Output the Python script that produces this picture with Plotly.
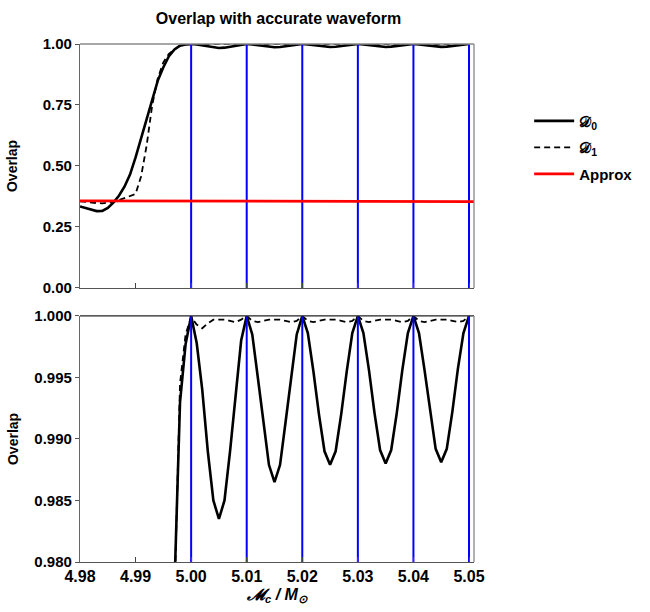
import plotly.graph_objects as go

# ---- data ----
chirp_mass = [
    4.980, 4.981, 4.982, 4.983, 4.984, 4.985, 4.986, 4.987, 4.988, 4.989,
    4.990, 4.991, 4.992, 4.993, 4.994, 4.995, 4.996, 4.997, 4.998, 4.999,
    5.000, 5.001, 5.002, 5.003, 5.004, 5.005, 5.006, 5.007, 5.008, 5.009,
    5.010, 5.011, 5.012, 5.013, 5.014, 5.015, 5.016, 5.017, 5.018, 5.019,
    5.020, 5.021, 5.022, 5.023, 5.024, 5.025, 5.026, 5.027, 5.028, 5.029,
    5.030, 5.031, 5.032, 5.033, 5.034, 5.035, 5.036, 5.037, 5.038, 5.039,
    5.040, 5.041, 5.042, 5.043, 5.044, 5.045, 5.046, 5.047, 5.048, 5.049,
    5.050,
]

overlap_D0 = [
    0.334, 0.327, 0.320, 0.315, 0.316, 0.328, 0.350, 0.378, 0.415, 0.465,
    0.535, 0.615, 0.695, 0.772, 0.850, 0.905, 0.950, 0.978, 0.993, 0.9977,
    1.0000, 0.9978, 0.9940, 0.9890, 0.9850, 0.9835, 0.9850, 0.9890, 0.9935, 0.9980,
    1.0000, 0.9985, 0.9950, 0.9914, 0.9879, 0.9865, 0.9879, 0.9914, 0.9950, 0.9985,
    1.0000, 0.9986, 0.9955, 0.9920, 0.9890, 0.9879, 0.9890, 0.9920, 0.9955, 0.9986,
    1.0000, 0.9986, 0.9956, 0.9921, 0.9891, 0.9880, 0.9891, 0.9921, 0.9956, 0.9986,
    1.0000, 0.9986, 0.9956, 0.9922, 0.9892, 0.9881, 0.9892, 0.9922, 0.9957, 0.9986,
    1.0000,
]

overlap_D1 = [
    0.355, 0.352, 0.350, 0.348, 0.347, 0.348, 0.352, 0.360, 0.368, 0.378,
    0.385, 0.458, 0.585, 0.750, 0.860, 0.925, 0.960, 0.977, 0.9945, 0.9985,
    0.9999, 0.9993, 0.9990, 0.9994, 0.9997, 0.9997, 0.9997, 0.9996, 0.9995, 0.9997,
    1.0000, 0.9996, 0.9995, 0.9996, 0.9997, 0.9997, 0.9997, 0.9996, 0.9995, 0.9996,
    1.0000, 0.9996, 0.9995, 0.9996, 0.9997, 0.9997, 0.9997, 0.9996, 0.9995, 0.9996,
    1.0000, 0.9996, 0.9995, 0.9996, 0.9997, 0.9997, 0.9997, 0.9996, 0.9995, 0.9996,
    1.0000, 0.9996, 0.9995, 0.9996, 0.9997, 0.9997, 0.9997, 0.9996, 0.9995, 0.9996,
    1.0000,
]

approx_x = [4.980, 5.0509]
approx_y = [0.357, 0.354]

template_masses = [5.00, 5.01, 5.02, 5.03, 5.04, 5.05]

x_ticks = [4.98, 4.99, 5.00, 5.01, 5.02, 5.03, 5.04, 5.05]
x_tick_labels = ["4.98", "4.99", "5.00", "5.01", "5.02", "5.03", "5.04", "5.05"]
top_y_ticks = [0.00, 0.25, 0.50, 0.75, 1.00]
top_y_labels = ["0.00", "0.25", "0.50", "0.75", "1.00"]
bot_y_ticks = [0.980, 0.985, 0.990, 0.995, 1.000]
bot_y_labels = ["0.980", "0.985", "0.990", "0.995", "1.000"]

FONT = "Liberation Sans, Arial, sans-serif"

fig = go.Figure()

# D0 / D1 in both panels
for ax, show in (("", True), ("2", False)):
    fig.add_trace(go.Scatter(
        x=chirp_mass, y=overlap_D0, mode="lines", name="𝒟<sub>0</sub>",
        line=dict(color="black", width=2.6), xaxis="x" + ax, yaxis="y" + ax,
        showlegend=show, legendgroup="d0", legendrank=1))
    fig.add_trace(go.Scatter(
        x=chirp_mass, y=overlap_D1, mode="lines", name="𝒟<sub>1</sub>",
        line=dict(color="black", width=1.8, dash="6px,4px"), xaxis="x" + ax, yaxis="y" + ax,
        showlegend=show, legendgroup="d1", legendrank=2))

# blue vertical template lines
for ax, yr in (("", (0.0, 1.0)), ("2", (0.980, 1.000))):
    xs, ys = [], []
    for m in template_masses:
        xs += [m, m, None]
        ys += [yr[0], yr[1], None]
    fig.add_trace(go.Scatter(
        x=xs, y=ys, mode="lines", line=dict(color="#0000ff", width=2),
        xaxis="x" + ax, yaxis="y" + ax, showlegend=False, hoverinfo="skip"))

# approx
fig.add_trace(go.Scatter(
    x=approx_x, y=approx_y, mode="lines", name="Approx",
    line=dict(color="#ff0000", width=2.8), xaxis="x", yaxis="y",
    showlegend=True, legendrank=3))

xr = [4.98, 5.0509]
common_x = dict(range=xr, tickvals=x_ticks, ticktext=x_tick_labels,
                ticks="inside", ticklen=5, tickcolor="#444", tickwidth=1,
                showline=True, linecolor="#555", linewidth=1.3, mirror=False,
                showgrid=False, zeroline=False, automargin=False)
common_y = dict(ticks="outside", ticklen=4, tickcolor="#555", tickwidth=1,
                showline=True, linecolor="#666", linewidth=1.3,
                showgrid=False, zeroline=False, tickfont=dict(size=15),
                automargin=False)

fig.update_layout(
    width=650, height=612,
    margin=dict(l=80, r=173, t=44, b=50),
    paper_bgcolor="white", plot_bgcolor="white",
    font=dict(family=FONT, size=14, color="black", weight="bold"),
    title=dict(text="Overlap with accurate waveform", x=0.4285, xanchor="center",
               y=0.97, yanchor="middle", font=dict(size=16, weight="bold")),
    xaxis=dict(domain=[0, 1], anchor="y", showticklabels=False, **common_x),
    yaxis=dict(domain=[0.529, 1.0], anchor="x", range=[0, 1.0],
               tickvals=top_y_ticks, ticktext=top_y_labels,
               title=dict(text="Overlap", standoff=21, font=dict(size=14)), **common_y),
    xaxis2=dict(domain=[0, 1], anchor="y2", tickfont=dict(size=16),
                title=dict(text="<i>𝓜<sub>c</sub> / M<sub>⊙</sub></i>", standoff=4,
                           font=dict(size=16)),
                **common_x),
    yaxis2=dict(domain=[0, 0.475], anchor="x2", range=[0.980, 1.000],
                tickvals=bot_y_ticks, ticktext=bot_y_labels,
                title=dict(text="Overlap", standoff=12, font=dict(size=14)), **common_y),
    legend=dict(x=1.14, y=0.80, xanchor="left", yanchor="middle",
                bgcolor="rgba(0,0,0,0)", font=dict(size=15, weight="bold"),
                tracegroupgap=4, itemwidth=40),
    showlegend=True,
)

# frame lines (top/right)
for xa, ya in (("x", "y"), ("x2", "y2")):
    fig.add_shape(type="line", xref=xa + " domain", yref=ya + " domain",
                  x0=0, x1=1, y0=1, y1=1, line=dict(color="#888" if ya == "y" else "#222", width=1.3))
    fig.add_shape(type="line", xref=xa + " domain", yref=ya + " domain",
                  x0=1, x1=1, y0=0, y1=1, line=dict(color="#888", width=1.3))

fig.write_html("out.html")
